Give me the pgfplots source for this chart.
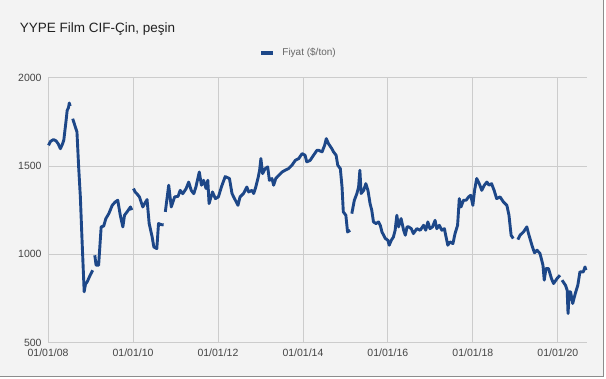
\documentclass[border=0pt]{standalone}
\usepackage{fontspec}
\setmainfont{Liberation Sans}
\usepackage{pgfplots}
\pgfplotsset{compat=1.18}
\definecolor{bg}{HTML}{F3F3F3}
\definecolor{gridc}{HTML}{CCCCCC}
\definecolor{linec}{HTML}{1D4788}
\definecolor{tickc}{HTML}{444444}
\begin{document}
\begin{tikzpicture}
\fill[white] (0pt,0pt) rectangle (606pt,378pt);
\fill[bg] (0pt,1.3pt) rectangle (603.3pt,378pt);
\draw[black!45, line width=0.8pt] (0pt,1.3pt) -- (603.3pt,1.3pt) -- (603.3pt,378pt);
\node[anchor=base west, inner sep=0pt, font=\fontsize{13.5}{16}\selectfont, text=black!87] at (19.3pt,345.7pt) {YYPE Film CIF-Çin, peşin};
\fill[linec] (261pt,323.5pt) rectangle (273pt,327.5pt);
\node[anchor=west, inner sep=0pt, font=\fontsize{10}{12}\selectfont, text=black!60] at (282pt,325.5pt) {Fiyat (\$/ton)};
\begin{axis}[
  at={(47.7pt,35.7pt)}, anchor=south west,
  scale only axis, width=539pt, height=264.9pt,
  xmin=2008, xmax=2020.68, ymin=500, ymax=2000,
  axis line style={draw=none},
  major tick length=0pt,
  grid=major,
  grid style={gridc, line width=0.9pt},
  xtick={2008,2010,2012,2014,2016,2018,2020},
  xticklabels={01/01/08,01/01/10,01/01/12,01/01/14,01/01/16,01/01/18,01/01/20},
  ytick={500,1000,1500,2000},
  /pgf/number format/1000 sep={},
  /pgf/number format/assume math mode=true,
  xticklabel style={font=\fontsize{10.5}{12}\selectfont, text=tickc, anchor=north, yshift=-3pt},
  yticklabel style={font=\fontsize{10.5}{12}\selectfont, text=tickc, anchor=east, xshift=-3pt},
  clip=false,
]
\addplot[linec, line width=2.9pt, line join=round, unbounded coords=jump] table {
2008.01 1617
2008.06 1640
2008.13 1650
2008.19 1642
2008.24 1625
2008.29 1598
2008.34 1625
2008.37 1646
2008.42 1749
2008.45 1815
2008.48 1830
2008.50 1857
2008.52 1840
2008.55 nan
2008.58 1768
2008.63 1730
2008.68 1693
2008.72 1494
2008.76 1325
2008.80 1079
2008.85 787
2008.88 830
2008.92 843
2008.99 881
2009.05 909
2009.07 nan
2009.10 994
2009.13 938
2009.19 938
2009.25 1155
2009.31 1160
2009.36 1202
2009.43 1230
2009.51 1277
2009.58 1296
2009.64 1306
2009.70 1221
2009.76 1155
2009.80 1221
2009.86 1240
2009.94 1268
2009.97 1250
2009.99 nan
2010.01 1372
2010.05 1353
2010.10 1340
2010.15 1325
2010.23 1268
2010.33 1310
2010.38 1174
2010.45 1098
2010.49 1041
2010.56 1032
2010.60 1174
2010.66 1168
2010.72 1166
2010.74 nan
2010.76 1240
2010.84 1391
2010.90 1268
2010.98 1325
2011.06 1328
2011.11 1362
2011.17 1343
2011.25 1372
2011.31 1409
2011.37 1362
2011.43 1343
2011.48 1381
2011.56 1466
2011.61 1391
2011.66 1419
2011.72 1372
2011.76 1419
2011.79 1287
2011.87 1353
2011.94 1315
2012.01 1325
2012.08 1381
2012.17 1440
2012.27 1429
2012.33 1344
2012.39 1315
2012.47 1277
2012.52 1325
2012.60 1344
2012.68 1381
2012.72 1353
2012.80 1362
2012.84 1344
2012.89 1381
2012.94 1429
2012.98 1476
2013.01 1542
2013.05 1457
2013.11 1485
2013.17 1495
2013.21 1419
2013.27 1429
2013.31 1391
2013.36 1429
2013.43 1447
2013.51 1466
2013.58 1476
2013.66 1485
2013.74 1504
2013.82 1532
2013.90 1542
2013.98 1570
2014.05 1561
2014.09 1523
2014.17 1532
2014.25 1561
2014.33 1589
2014.37 1589
2014.45 1580
2014.51 1617
2014.55 1655
2014.60 1627
2014.68 1598
2014.72 1580
2014.78 1561
2014.82 1504
2014.88 1485
2014.92 1381
2014.95 1240
2015.01 1221
2015.05 1126
2015.11 1136
2015.13 nan
2015.15 1230
2015.21 1306
2015.27 1344
2015.31 1381
2015.34 1476
2015.37 1344
2015.43 1362
2015.48 1400
2015.53 1362
2015.58 1287
2015.62 1249
2015.66 1183
2015.72 1174
2015.78 1183
2015.82 1164
2015.86 1126
2015.94 1089
2016.00 1079
2016.03 1051
2016.08 1079
2016.13 1098
2016.17 1136
2016.21 1221
2016.25 1155
2016.31 1202
2016.37 1136
2016.41 1108
2016.45 1155
2016.49 1155
2016.55 1145
2016.60 1117
2016.68 1145
2016.76 1136
2016.84 1164
2016.89 1136
2016.94 1183
2016.99 1145
2017.05 1155
2017.11 1192
2017.15 1145
2017.21 1164
2017.27 1136
2017.33 1145
2017.36 1108
2017.41 1051
2017.46 1070
2017.53 1060
2017.58 1117
2017.64 1164
2017.68 1315
2017.72 1268
2017.78 1306
2017.84 1306
2017.90 1325
2017.95 1334
2018.00 1277
2018.04 1362
2018.09 1429
2018.15 1400
2018.21 1362
2018.27 1391
2018.33 1409
2018.38 1391
2018.44 1400
2018.50 1362
2018.56 1315
2018.64 1325
2018.72 1296
2018.80 1277
2018.85 1221
2018.90 1108
2018.95 1089
2019.00 nan
2019.06 1083
2019.11 1108
2019.19 1126
2019.27 1155
2019.31 1117
2019.39 1051
2019.45 1008
2019.51 1023
2019.58 1004
2019.65 938
2019.68 853
2019.72 919
2019.78 919
2019.85 862
2019.90 834
2019.98 862
2020.05 881
2020.07 nan
2020.10 853
2020.18 824
2020.22 796
2020.24 664
2020.27 787
2020.30 787
2020.35 721
2020.41 777
2020.47 824
2020.52 900
2020.60 900
2020.64 928
2020.66 910
};
\end{axis}
\end{tikzpicture}
\end{document}
